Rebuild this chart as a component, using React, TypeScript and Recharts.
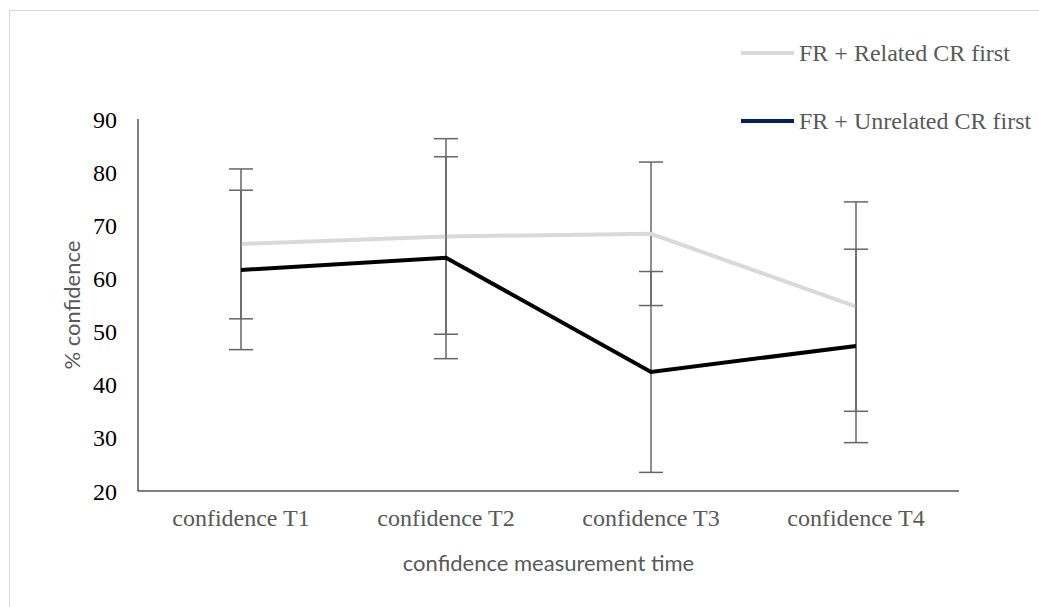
import React from "react";
import { ErrorBar, Label, Line, LineChart, XAxis, YAxis } from "recharts";

const categories = ["confidence T1", "confidence T2", "confidence T3", "confidence T4"];
const relatedMean = [66.5, 67.9, 68.4, 54.7];
const relatedErr = [14.1, 18.4, 13.5, 19.7];
const unrelatedMean = [61.6, 63.9, 42.4, 47.3];
const unrelatedErr = [15.0, 19.0, 18.9, 18.2];
const yTicks = [20, 30, 40, 50, 60, 70, 80, 90];

const data = categories.map((name, i) => ({
  name,
  related: relatedMean[i],
  relatedErr: relatedErr[i],
  unrelated: unrelatedMean[i],
  unrelatedErr: unrelatedErr[i],
}));

const serif = "'Liberation Serif', 'Times New Roman', serif";
const sans = "Lato, 'Open Sans', sans-serif";

const legendItems = [
  { label: "FR + Related CR first", color: "#d9d9d9" },
  { label: "FR + Unrelated CR first", color: "#002060" },
];

// legend drawn as html so it doesn't eat into the plot area
function ChartLegend() {
  return (
    <div
      style={{
        position: "absolute",
        left: 741,
        top: 41,
        fontFamily: serif,
        fontSize: 24,
        color: "#595959",
      }}
    >
      {legendItems.map((item, i) => (
        <div
          key={item.label}
          style={{
            display: "flex",
            alignItems: "center",
            height: 24,
            marginTop: i === 0 ? 0 : 44,
            whiteSpace: "nowrap",
          }}
        >
          <span
            style={{
              display: "inline-block",
              width: 53,
              height: 4,
              background: item.color,
              marginRight: 5,
            }}
          />
          {item.label}
        </div>
      ))}
    </div>
  );
}

export default function App() {
  return (
    <div
      style={{
        position: "absolute",
        left: 0,
        top: 0,
        width: 1039,
        height: 607,
        overflow: "hidden",
        background: "#fff",
      }}
    >
      <div
        style={{
          position: "absolute",
          left: 9,
          top: 10,
          width: 1100,
          height: 700,
          border: "1px solid #d9d9d9",
        }}
      />
      <LineChart
        width={1039}
        height={607}
        data={data}
        margin={{ top: 119, right: 80, left: 0, bottom: 0 }}
      >
        <XAxis
          dataKey="name"
          height={116}
          padding={{ left: 103, right: 103 }}
          axisLine={{ stroke: "#000", strokeWidth: 1 }}
          tickLine={false}
          tickSize={0}
          tickMargin={18}
          tick={{ fontFamily: serif, fontSize: 24, fill: "#595959" }}
        >
          <Label
            value="confidence measurement time"
            position="insideBottom"
            offset={36}
            style={{ fontFamily: sans, fontSize: 22, fill: "#595959" }}
          />
        </XAxis>
        <YAxis
          width={138}
          domain={[20, 90]}
          ticks={yTicks}
          allowDataOverflow
          axisLine={{ stroke: "#000", strokeWidth: 1 }}
          tickLine={false}
          tickSize={0}
          tickMargin={21}
          tick={{ fontFamily: serif, fontSize: 24, fill: "#000" }}
        >
          <Label
            value="% confidence"
            angle={-90}
            position="center"
            dx={3}
            style={{ fontFamily: sans, fontSize: 22, fill: "#595959", textAnchor: "middle" }}
          />
        </YAxis>
        <Line
          dataKey="related"
          type="linear"
          stroke="#d9d9d9"
          strokeWidth={4}
          dot={false}
          isAnimationActive={false}
        >
          <ErrorBar dataKey="relatedErr" width={12} stroke="#666" strokeWidth={1.5} direction="y" />
        </Line>
        <Line
          dataKey="unrelated"
          type="linear"
          stroke="#000"
          strokeWidth={4}
          dot={false}
          isAnimationActive={false}
        >
          <ErrorBar dataKey="unrelatedErr" width={12} stroke="#666" strokeWidth={1.5} direction="y" />
        </Line>
      </LineChart>
      <ChartLegend />
    </div>
  );
}
